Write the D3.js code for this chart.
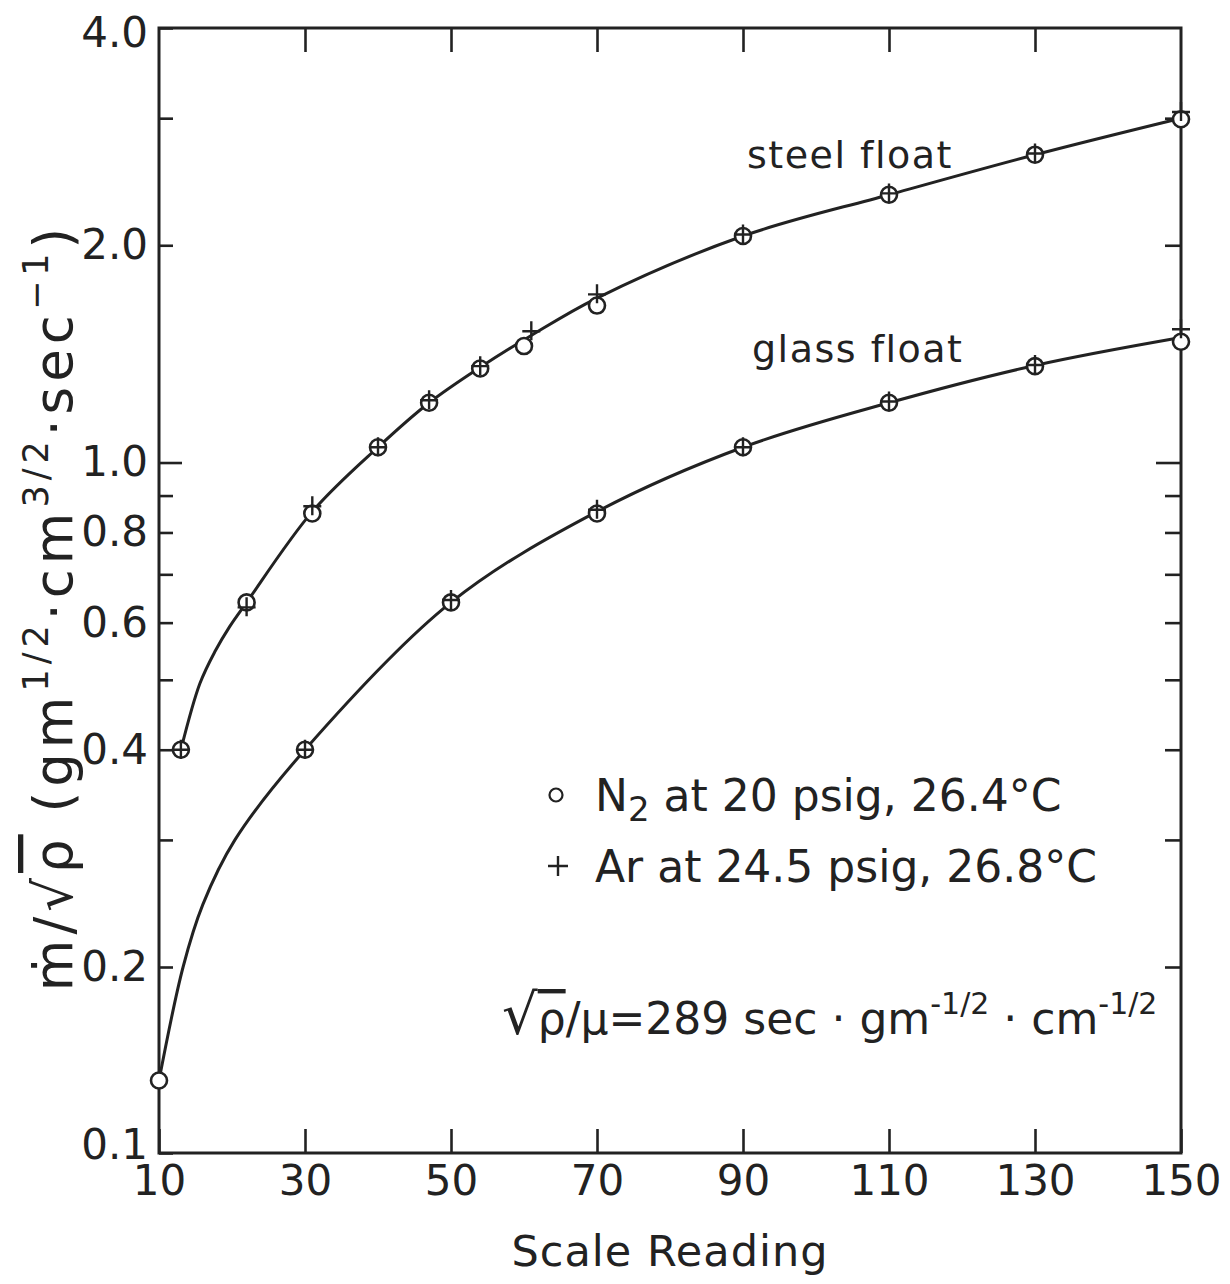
<!DOCTYPE html>
<html>
<head>
<meta charset="utf-8">
<script src="https://cdn.jsdelivr.net/npm/d3@7"></script>
<style>
  body { margin: 0; background: #fff; }
  svg text { font-family: "DejaVu Sans", "Noto Sans", sans-serif; fill: #222; }
</style>
</head>
<body>
<svg id="chart" width="1230" height="1284"></svg>
<script>
// Scale reading of the rotameter (x) and reduced mass flow (y, log scale)
const xTickValues = [10, 30, 50, 70, 90, 110, 130, 150];
const yLabelValues = [0.1, 0.2, 0.4, 0.6, 0.8, 1.0, 2.0, 4.0];
const yMinorValues = [0.3, 0.5, 0.7, 0.9, 3.0];

// Steel float calibration points
const steelN2Reading = [13, 22, 31, 40, 47, 54, 60, 70, 90, 110, 130, 150];
const steelN2Flow    = [0.40, 0.64, 0.85, 1.05, 1.21, 1.35, 1.45, 1.65, 2.06, 2.35, 2.67, 2.99];
const steelArReading = [13, 22, 31, 40, 47, 54, 61, 70, 90, 110, 130, 150];
const steelArFlow    = [0.40, 0.63, 0.87, 1.05, 1.22, 1.36, 1.52, 1.71, 2.07, 2.36, 2.68, 3.06];

// Glass float calibration points
const glassN2Reading = [10, 30, 50, 70, 90, 110, 130, 150];
const glassN2Flow    = [0.131, 0.40, 0.64, 0.85, 1.05, 1.21, 1.36, 1.47];
const glassArReading = [30, 50, 70, 90, 110, 130, 150];
const glassArFlow    = [0.40, 0.645, 0.86, 1.05, 1.215, 1.365, 1.53];

// Hand-faired calibration curves
const steelCurveReading = [13, 15.6, 17.7, 19.7, 22, 31, 40, 47, 54, 61, 70, 90, 110, 130, 150];
const steelCurveFlow    = [0.40, 0.494, 0.548, 0.593, 0.64, 0.855, 1.05, 1.21, 1.355, 1.50, 1.69, 2.06, 2.35, 2.67, 3.0];
const glassCurveReading = [10, 13.3, 16.0, 20.4, 30, 50, 70, 90, 110, 130, 150];
const glassCurveFlow    = [0.131, 0.20, 0.244, 0.30, 0.40, 0.64, 0.855, 1.05, 1.21, 1.363, 1.49];

const ink = "#222";
const svg = d3.select("#chart");
const plot = { left: 159, right: 1181, top: 28, bottom: 1153 };

const x = d3.scaleLinear().domain([10, 150]).range([plot.left, plot.right]);
// the printed log scale is shortened below 0.2
const y = d3.scaleLog().domain([0.1, 0.2, 4]).range([plot.bottom, 967, plot.top]);

const fmt = d3.format(".1f");

// Bottom axis: ticks pointing into the plot, labels below
const xAxisB = svg.append("g")
  .attr("transform", `translate(0,${plot.bottom})`)
  .call(d3.axisBottom(x).tickValues(xTickValues).tickSizeInner(-24).tickSizeOuter(0)
    .tickPadding(12).tickFormat(d3.format("d")));
xAxisB.selectAll("text").style("font-size", "42px").attr("fill", ink);

// Top axis: ticks only
svg.append("g")
  .attr("transform", `translate(0,${plot.top})`)
  .call(d3.axisTop(x).tickValues(xTickValues.slice(1, -1)).tickSizeInner(-24).tickSizeOuter(0)
    .tickFormat(""));

// Left axis: labelled and unlabelled ticks
const yAxisL = svg.append("g")
  .attr("transform", `translate(${plot.left},0)`)
  .call(d3.axisLeft(y).tickValues(yLabelValues.concat(yMinorValues)).tickSizeInner(-14).tickSizeOuter(0)
    .tickPadding(11).tickFormat(d => yLabelValues.includes(d) ? fmt(d) : ""));
yAxisL.selectAll("text").style("font-size", "42px").attr("fill", ink)
  .attr("dy", d => d === 0.1 ? "0.12em" : d === 4 ? "0.45em" : "0.32em");
yAxisL.selectAll(".tick line").attr("x2", d => d === 1 ? 23 : 14);

// Right axis: ticks only
const yAxisR = svg.append("g")
  .attr("transform", `translate(${plot.right},0)`)
  .call(d3.axisRight(y).tickValues([0.2, 0.3, 0.4, 0.5, 0.6, 0.7, 0.8, 0.9, 1.0, 2.0, 3.0])
    .tickSizeInner(-16).tickSizeOuter(0).tickFormat(""));
yAxisR.selectAll(".tick line").attr("x2", d => d === 1 ? -25 : -16);

svg.selectAll(".domain").remove();
svg.selectAll(".tick line").attr("stroke", ink).attr("stroke-width", 2.6);

// Frame
svg.append("rect")
  .attr("x", plot.left).attr("y", plot.top)
  .attr("width", plot.right - plot.left).attr("height", plot.bottom - plot.top)
  .attr("fill", "none").attr("stroke", ink).attr("stroke-width", 3);

// Calibration curves
const line = d3.line().x(d => x(d[0])).y(d => y(d[1])).curve(d3.curveCatmullRom.alpha(0.5));
const curves = [
  d3.zip(steelCurveReading, steelCurveFlow),
  d3.zip(glassCurveReading, glassCurveFlow)
];
svg.append("g").selectAll("path").data(curves).join("path")
  .attr("d", line).attr("fill", "none").attr("stroke", ink).attr("stroke-width", 3);

// N2 points (open circles)
const n2Points = d3.zip(steelN2Reading, steelN2Flow).concat(d3.zip(glassN2Reading, glassN2Flow));
svg.append("g").selectAll("circle").data(n2Points).join("circle")
  .attr("cx", d => x(d[0])).attr("cy", d => y(d[1])).attr("r", 8)
  .attr("fill", "#fff").attr("stroke", ink).attr("stroke-width", 2.6);

// Ar points (crosses)
const arPoints = d3.zip(steelArReading, steelArFlow).concat(d3.zip(glassArReading, glassArFlow));
svg.append("g").selectAll("path").data(arPoints).join("path")
  .attr("d", d => { const cx = x(d[0]), cy = y(d[1]);
    return `M${cx - 9},${cy}H${cx + 9}M${cx},${cy - 10}V${cy + 9}`; })
  .attr("fill", "none").attr("stroke", ink).attr("stroke-width", 2.4);

// Curve labels
svg.append("text").attr("x", 747).attr("y", 168).style("font-size", "38px")
  .style("letter-spacing", "1.5px").text("steel float");
svg.append("text").attr("x", 752).attr("y", 362).style("font-size", "38px")
  .style("letter-spacing", "1.5px").text("glass float");

// X axis title
svg.append("text").attr("x", (plot.left + plot.right) / 2).attr("y", 1266)
  .attr("text-anchor", "middle").style("font-size", "43px").style("letter-spacing", "1px")
  .text("Scale Reading");

// Y axis title
const yt = svg.append("text").attr("transform", "translate(72,607) rotate(-90)")
  .attr("text-anchor", "middle").style("font-size", "53px").style("letter-spacing", "5px");
yt.append("tspan").text("ṁ/√");
yt.append("tspan").style("text-decoration", "overline").text("ρ");
yt.append("tspan").text(" (gm");
yt.append("tspan").attr("dy", -24).style("font-size", "35px").text("1/2");
yt.append("tspan").attr("dy", 24).text("·cm");
yt.append("tspan").attr("dy", -24).style("font-size", "35px").text("3/2");
yt.append("tspan").attr("dy", 24).text("·sec");
yt.append("tspan").attr("dy", -24).style("font-size", "35px").text("−1");
yt.append("tspan").attr("dy", 24).text(")");

// Legend
svg.append("circle").attr("cx", 556).attr("cy", 795).attr("r", 6.5)
  .attr("fill", "none").attr("stroke", ink).attr("stroke-width", 2.2);
const l1 = svg.append("text").attr("x", 595).attr("y", 811).style("font-size", "44px");
l1.append("tspan").text("N");
l1.append("tspan").attr("dy", 10).style("font-size", "34px").text("2");
l1.append("tspan").attr("dy", -10).text(" at 20 psig, 26.4°C");

svg.append("path").attr("d", "M548,866H568M558,856V876")
  .attr("stroke", ink).attr("stroke-width", 2.4).attr("fill", "none");
svg.append("text").attr("x", 595).attr("y", 882).style("font-size", "44px")
  .text("Ar at 24.5 psig, 26.8°C");

const l3 = svg.append("text").attr("x", 502).attr("y", 1034).style("font-size", "44px");
l3.append("tspan").style("font-size", "56px").text("√");
l3.append("tspan").style("text-decoration", "overline").text("ρ");
l3.append("tspan").text("/μ=289 sec · gm");
l3.append("tspan").attr("dy", -20).style("font-size", "30px").text("-1/2");
l3.append("tspan").attr("dy", 20).text(" · cm");
l3.append("tspan").attr("dy", -20).style("font-size", "30px").text("-1/2");
</script>
</body>
</html>
